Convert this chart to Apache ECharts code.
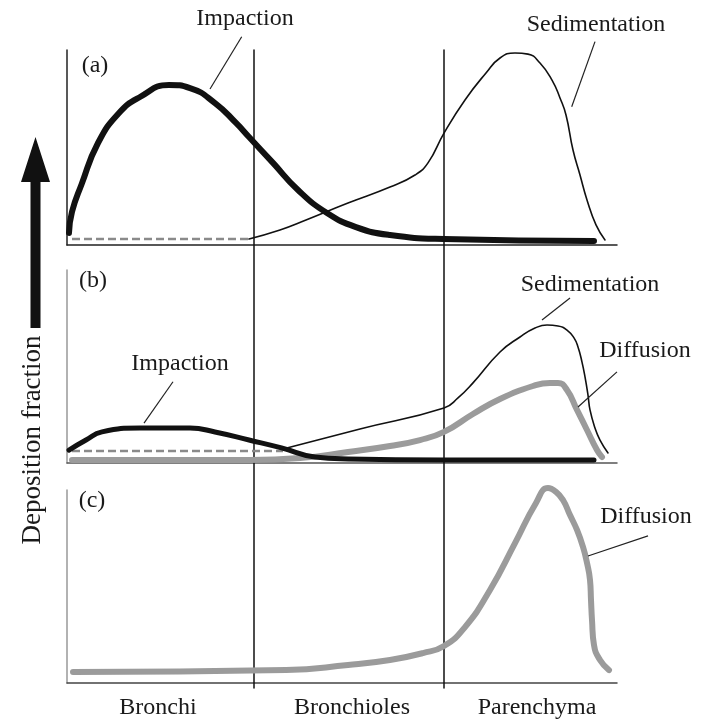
<!DOCTYPE html>
<html>
<head>
<meta charset="utf-8">
<script src="https://cdn.jsdelivr.net/npm/echarts@6/dist/echarts.min.js"></script>
<style>
html,body{margin:0;padding:0;background:#fff;}
#c{width:712px;height:721px;}
</style>
</head>
<body>
<div id="c"></div>
<script>
// ---- data (x: relative airway depth 0..550, y: deposition fraction 0..1) ----
const xMax = 550;
const boundaries = [187, 377];
const categories = ['Bronchi', 'Bronchioles', 'Parenchyma'];
const categoryPos = [91, 285, 470];

// panel (a)
const aImpaction = [[2,0.062],[5,0.17],[14.5,0.31],[31,0.523],[52,0.677],[73,0.759],[102,0.821],[123,0.805],[148,0.728],[169,0.626],[182,0.554],[206,0.421],[231,0.282],[260,0.164],[289,0.092],[323,0.051],[377,0.031],[527,0.021]];
const aSedimentationLow = [[5,0.031],[182,0.031]];
const aSedimentation = [[182,0.031],[213,0.077],[239,0.128],[281,0.215],[323,0.297],[348,0.359],[361,0.421],[377,0.574],[398,0.744],[419,0.882],[433,0.959],[448,0.985],[461,0.979],[473,0.933],[485,0.846],[493,0.754],[499,0.667],[506,0.487],[513,0.359],[520,0.231],[529,0.103],[538,0.026]];

// panel (b)
const bImpaction = [[2,0.067],[19,0.119],[35,0.161],[73,0.181],[123,0.181],[148,0.161],[182,0.119],[214.5,0.078],[248,0.031],[281,0.021],[377,0.016],[527,0.016]];
const bSedimentationLow = [[5,0.062],[216,0.062]];
const bSedimentation = [[216,0.073],[293,0.176],[377,0.285],[391,0.337],[406,0.415],[433,0.575],[453,0.653],[468,0.699],[480,0.715],[491,0.710],[500,0.689],[507,0.648],[511,0.601],[515,0.523],[518,0.446],[521,0.352],[523,0.275],[528,0.181],[533,0.119],[541,0.052]];
const bDiffusion = [[5,0.016],[183,0.016],[233,0.026],[281,0.057],[323,0.088],[353,0.119],[377,0.161],[406,0.254],[433,0.332],[466,0.399],[483,0.415],[491,0.415],[500,0.378],[510,0.275],[520,0.171],[530,0.067],[535,0.031]];

// panel (c)
const cDiffusion = [[6,0.057],[219,0.067],[281,0.093],[323,0.119],[356,0.155],[377,0.192],[398,0.290],[423,0.482],[448,0.725],[469,0.933],[481,1.010],[489,0.990],[496,0.948],[503,0.870],[510,0.793],[516,0.705],[520,0.622],[523,0.534],[524,0.430],[525,0.326],[527,0.197],[533,0.119],[542,0.067]];

// leader lines [panel, [x1,y1], [x2,y2]] in data units
const leaders = [
  [0, [174.7,1.068], [143,0.80]],
  [0, [528,1.043], [504.7,0.709]],
  [1, [106,0.421], [77,0.207]],
  [1, [503,0.855], [475,0.741]],
  [1, [550,0.472], [511,0.290]],
  [2, [581,0.762], [521,0.658]]
];

const FONT = "'Liberation Serif', 'DejaVu Serif', serif";
const TXT = '#1a1a1a';

const chart = echarts.init(document.getElementById('c'));

const grids = [
  {left:67, top:50, width:550, height:195},
  {left:67, top:270, width:550, height:193},
  {left:67, top:490, width:550, height:193},
  {left:67, top:50, width:550, height:638}
].map(g => Object.assign({outerBoundsMode:'none', containLabel:false}, g));

const axisCol = [['#222','#222'],['#555','#999'],['#444','#999']];

const xAxes = [0,1,2,3].map(i => ({
  type:'value', gridIndex:i, min:0, max:xMax,
  axisLine:{show:i<3, onZero:false, lineStyle:{color:i<3?axisCol[i][0]:'#000', width:1.5}},
  axisTick:{show:false}, splitLine:{show:false},
  axisLabel: i===2 ? {
    show:true, customValues:categoryPos, margin:13,
    formatter:(v)=>{const k=categoryPos.indexOf(v); return k>=0?categories[k]:'';},
    fontFamily:FONT, fontSize:24, color:TXT
  } : {show:false}
}));
const yAxes = [0,1,2,3].map(i => ({
  type:'value', gridIndex:i, min:0, max:1,
  axisLine:{show:i<3, lineStyle:{color:i<3?axisCol[i][1]:'#000', width:1.5}},
  axisTick:{show:false}, splitLine:{show:false}, axisLabel:{show:false}
}));

function line(data, gi, color, width, extra) {
  return Object.assign({
    type:'line', xAxisIndex:gi, yAxisIndex:gi, data:data,
    smooth:0.5, symbol:'none', clip:false, silent:true,
    lineStyle:{color:color, width:width, cap:'round', join:'round'},
    z: 3
  }, extra||{});
}

const series = [];
// boundary lines
boundaries.forEach(b => {
  series.push(line([[b,0],[b,1]], 3, '#111', 1.5, {smooth:false, z:2}));
});
// panel a
series.push(line(aSedimentationLow, 0, '#888', 2.5, {smooth:false, lineStyle:{color:'#8a8a8a', width:2.5, type:[8,4]}}));
series.push(line(aSedimentation, 0, '#111', 1.6));
series.push(line(aImpaction, 0, '#111', 6, {z:4}));
// panel b
series.push(line(bDiffusion, 1, '#9b9b9b', 6));
series.push(line(bSedimentationLow, 1, '#888', 2.5, {smooth:false, lineStyle:{color:'#8a8a8a', width:2.5, type:[8,4]}}));
series.push(line(bImpaction, 1, '#111', 5, {z:4}));
series.push(line(bSedimentation, 1, '#111', 1.6, {z:5}));
// panel c
series.push(line(cDiffusion, 2, '#9b9b9b', 6));

function txt(t, x, y, extra) {
  return Object.assign({
    type:'text', x:x, y:y, silent:true,
    style:{text:t, fill:TXT, font:"24px " + FONT, textAlign:'center', textVerticalAlign:'middle', verticalAlign:'middle'}
  }, extra||{});
}

const graphic = [
  txt('Impaction', 245, 19),
  txt('Sedimentation', 596, 25),
  txt('(a)', 95, 66),
  txt('(b)', 93, 281),
  txt('Impaction', 180, 364),
  txt('Sedimentation', 590, 285),
  txt('Diffusion', 645, 351),
  txt('(c)', 92, 501),
  txt('Diffusion', 646, 517),
  {
    type:'text', x:33, y:440, rotation:Math.PI/2, silent:true,
    style:{text:'Deposition fraction', fill:TXT, font:"27px " + FONT, textAlign:'center', textVerticalAlign:'middle', verticalAlign:'middle'}
  },
  {
    type:'polygon', silent:true,
    shape:{points:[[35.5,137],[50,182],[40.5,182],[40.5,328],[30.5,328],[30.5,182],[21,182]]},
    style:{fill:'#111'}
  }
];

chart.setOption({
  animation:false,
  backgroundColor:'#fff',
  grid:grids, xAxis:xAxes, yAxis:yAxes, series:series, graphic:graphic
});

// leader lines placed through each panel's own scales
const leaderGraphics = leaders.map(l => {
  const p1 = chart.convertToPixel({gridIndex:l[0]}, l[1]);
  const p2 = chart.convertToPixel({gridIndex:l[0]}, l[2]);
  return {type:'line', silent:true, z:10,
    shape:{x1:p1[0], y1:p1[1], x2:p2[0], y2:p2[1]},
    style:{stroke:'#222', lineWidth:1.2}};
});
chart.setOption({graphic: graphic.concat(leaderGraphics)});
</script>
</body>
</html>
